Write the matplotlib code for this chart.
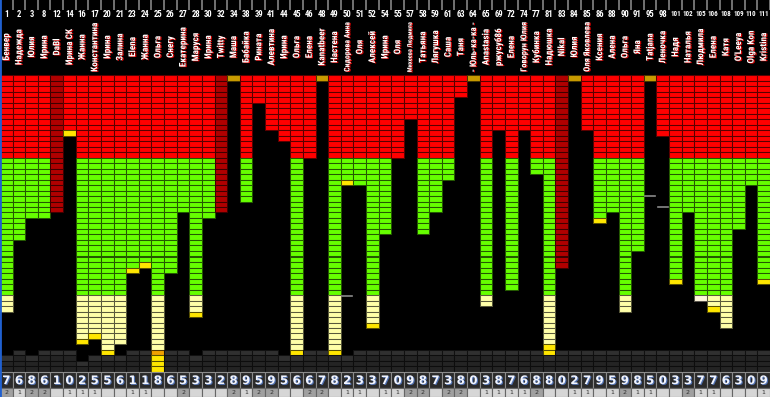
import matplotlib
matplotlib.use('Agg')
import matplotlib.pyplot as plt
import matplotlib.patheffects as pe
from matplotlib import font_manager
import numpy as np

# ---------------- data ----------------
ids = [1, 2, 3, 8, 12, 14, 16, 17, 20, 21, 23, 24, 25, 26, 27, 28, 30, 32, 34, 38,
       39, 41, 44, 45, 46, 48, 49, 50, 51, 52, 54, 55, 57, 58, 59, 61, 63, 64, 65, 69,
       72, 74, 77, 81, 83, 84, 85, 86, 88, 90, 91, 95, 98, 101, 102, 105, 106, 108, 109, 110, 111]
names = ["Бенвер", "Надежда", "Юлия", "Ирина", "DaBl", "Ирина СК", "Жанна", "Константина",
         "Ирина", "Залина", "Elena", "Жанна", "Ольга", "Снегу", "Екатерина", "Маруся", "Ирина",
         "Twitty", "Маша", "Бабайка", "Рината", "Алевтина", "Ирина", "Ольга", "Елена",
         "Kanatbeer", "Настена", "Сидорова Анна", "Оля", "Алексей", "Ирина", "Оля",
         "Михеева Людмила", "Татьяна", "Лягушка", "Саша", "Таня", "- Юль-ка-ка -", "Anastasia",
         "ржусуб86", "Елена", "Говорун Юлия", "Кубинка", "Надюшка", "Nikal", "Юлия",
         "Оля Яковлева", "Ксения", "Алена", "Ольга", "Яна", "Tatjana", "Леночка", "Надя",
         "Наталья", "Людмила", "Елена", "Катя", "O'Leeya", "Olga Kon", "Kristina"]
# number of filled cells in each column
cells = [43, 30, 26, 26, 25, 11, 49, 48, 51, 49, 36, 35, 54, 36, 25, 44, 26, 25, 1, 23,
         5, 10, 12, 51, 15, 1, 51, 20, 20, 46, 29, 15, 8, 29, 25, 19, 4, 1, 42, 10,
         39, 10, 18, 51, 35, 1, 10, 27, 25, 43, 32, 1, 11, 38, 25, 41, 43, 46, 28, 20, 38]
dark_cols = [4, 17, 44]            # whole column dark red
gold_cols = [18, 25, 37, 45, 51]   # single gold cell
# number of bright-yellow cells at the end of each column
tail = [0, 0, 0, 0, 0, 1, 1, 1, 1, 0, 1, 1, 3, 0, 0, 1, 0, 0, 0, 0,
        0, 0, 0, 1, 0, 0, 1, 1, 0, 1, 0, 0, 0, 0, 0, 0, 0, 0, 0, 0,
        0, 0, 0, 2, 0, 0, 0, 1, 0, 0, 0, 0, 0, 1, 0, 0, 1, 0, 0, 0, 1]
orange_cells = {12: 50}
pale_last = [55]
# first row of the dark grey background block at the bottom
gray_start = [51, 50, 51, 50, 50, 50, 52, 51, 51, 51, 50, 50, 54, 50, 50, 51, 50, 50, 50, 50,
              50, 50, 51, 51, 50, 50, 51, 51, 50, 50, 50, 50, 50, 50, 50, 50, 50, 50, 50, 50,
              50, 50, 50, 51, 50, 50, 50, 50, 50, 50, 50, 50, 50, 50, 50, 50, 50, 50, 50, 50, 50]
markers = {27: 40.1, 51: 22.05, 52: 24.05}
digits = [7, 6, 8, 6, 1, 0, 2, 5, 5, 6, 1, 1, 8, 6, 5, 3,
          3, 2, 8, 9, 5, 9, 5, 6, 6, 7, 8, 2, 3, 3, 7,
          0, 9, 8, 7, 3, 8, 0, 3, 8, 7, 6, 8, 8, 0, 2,
          7, 9, 5, 9, 8, 5, 0, 3, 3, 7, 7, 6, 3, 0, 9]
small = ['2', '1', '2', '2', '', '1', '1', '1', '', '', '1', '1', '', '', '2', '',
         '', '', '2', '1', '2', '2', '', '', '2', '2', '', '1', '1', '', '1',
         '1', '2', '2', '', '2', '2', '', '1', '1', '1', '1', '2', '', '', '1',
         '1', '', '1', '2', '1', '1', '', '', '2', '1', '1', '', '', '', '1']

# ---------------- layout ----------------
W, H = 770, 397
Y0, CH = 75.0, 5.5          # pixel top of the grid and cell height
NC = len(ids)


def r(ypx):
    return (ypx - Y0) / CH


RED, GREEN, LIGHT, YEL = '#ff0000', '#66ff00', '#ffffa8', '#ffe600'
DARKRED, GOLD, ORANGE, PALE = '#b00000', '#c89b00', '#f0a000', '#fff6dc'


def darker(c, f=0.35):
    rgb = np.array(matplotlib.colors.to_rgb(c))
    return tuple(rgb * f)


# choose a condensed font if one is installed
avail = set(font_manager.get_font_names())
narrow = None
for cand in ['Liberation Sans Narrow', 'Roboto Condensed', 'Open Sans Condensed',
             'DejaVu Sans Condensed', 'Noto Sans Condensed']:
    if cand in avail:
        narrow = cand
        break
stretch = 'normal'
if narrow is None:
    for f in font_manager.fontManager.ttflist:
        if f.name == 'DejaVu Sans' and 'ondensed' in str(f.stretch) + f.fname:
            narrow = 'DejaVu Sans'
            stretch = 'condensed'
            break
if narrow is None:
    narrow = 'Liberation Sans' if 'Liberation Sans' in avail else 'DejaVu Sans'

fig = plt.figure(figsize=(W / 100, H / 100), dpi=100, facecolor='black')
ax = fig.add_axes([0, 0, 1, 1])
ax.set_facecolor('black')
ax.set_xlim(0, NC)
ax.set_ylim(r(H), r(0))
ax.axis('off')

xs, ys, fc = [], [], []
for i, n in enumerate(cells):
    for row in range(n):
        if i in gold_cols:
            c = GOLD
        elif i in dark_cols:
            c = DARKRED
        elif row < 15:
            c = RED
        elif row < 40:
            c = GREEN
        else:
            c = LIGHT
        if i not in gold_cols and i not in dark_cols and row >= n - tail[i]:
            c = YEL
        if orange_cells.get(i) == row:
            c = ORANGE
        if i in pale_last and row == n - 1:
            c = PALE
        xs.append(i + 0.5); ys.append(row); fc.append(c)
    for row in range(max(gray_start[i], n), 54):
        c = '#303030' if row == gray_start[i] else '#242424'
        xs.append(i + 0.5); ys.append(row); fc.append(c)

ec = [darker(c) for c in fc]
ax.bar(xs, 1, bottom=ys, width=1, color=fc, edgecolor=ec, linewidth=0.75)

# marker lines
for i, yv in markers.items():
    ax.plot([i + 0.1, i + 0.9], [yv, yv], color='#8a8a8a', lw=1.2)

# header separators and numbers
for i in range(NC + 1):
    ax.plot([i, i], [r(0), r(10)], color='#7a7a7a', lw=1.3, solid_capstyle='butt')
for i, v in enumerate(ids):
    s = str(v)
    ax.text(i + 0.5, r(14.5), s, color='white', ha='center', va='center',
            fontsize=6.2 if len(s) < 3 else 5.0, fontweight='bold',
            family=[narrow, 'DejaVu Sans'], stretch=stretch)

shadow = [pe.withSimplePatchShadow(offset=(0.9, -0.4), shadow_rgbFace='#e00000', alpha=1.0)]
name_texts = []
NAME_FS = 6.6
for i, nm in enumerate(names):
    t = ax.text(i + 0.5, r(47), nm, color='white', rotation=90, ha='center', va='center',
                fontsize=NAME_FS, fontweight='bold', family=[narrow, 'DejaVu Sans'],
                stretch=stretch, path_effects=shadow)
    name_texts.append(t)
fig.canvas.draw()
rend = fig.canvas.get_renderer()
for t in name_texts:
    h = t.get_window_extent(rend).height
    if h > 50:
        t.set_fontsize(NAME_FS * 50 / h)

# bottom digit row
dshadow = [pe.withSimplePatchShadow(offset=(0.8, -0.6), shadow_rgbFace='#5070b0', alpha=1.0)]
ax.bar([i + 0.5 for i in range(NC)], r(388) - r(372), bottom=r(372), width=1,
       color='#2a2a2a', edgecolor='#8c8c8c', linewidth=0.8)
for i, d in enumerate(digits):
    ax.text(i + 0.5, (r(372) + r(388)) / 2 + 0.1, str(d), color='#f0f4ff', ha='center',
            va='center', fontsize=8.5, fontweight='bold', path_effects=dshadow)

# bottom small boxes
sfc = ['#a0a0a0' if s == '2' else '#d6d6d6' for s in small]
ax.bar([i + 0.5 for i in range(NC)], r(397) - r(388.5), bottom=r(388.5), width=1,
       color=sfc, edgecolor='#666666', linewidth=0.8)
for i, s in enumerate(small):
    if s:
        ax.text(i + 0.5, (r(388.5) + r(397)) / 2, s, color='#303030', ha='center',
                va='center', fontsize=4.5)

# left blue border
ax.plot([0.02, 0.02], [r(0), r(H)], color='#2060d0', lw=2)

fig.savefig('out.png', dpi=100, facecolor='black')
